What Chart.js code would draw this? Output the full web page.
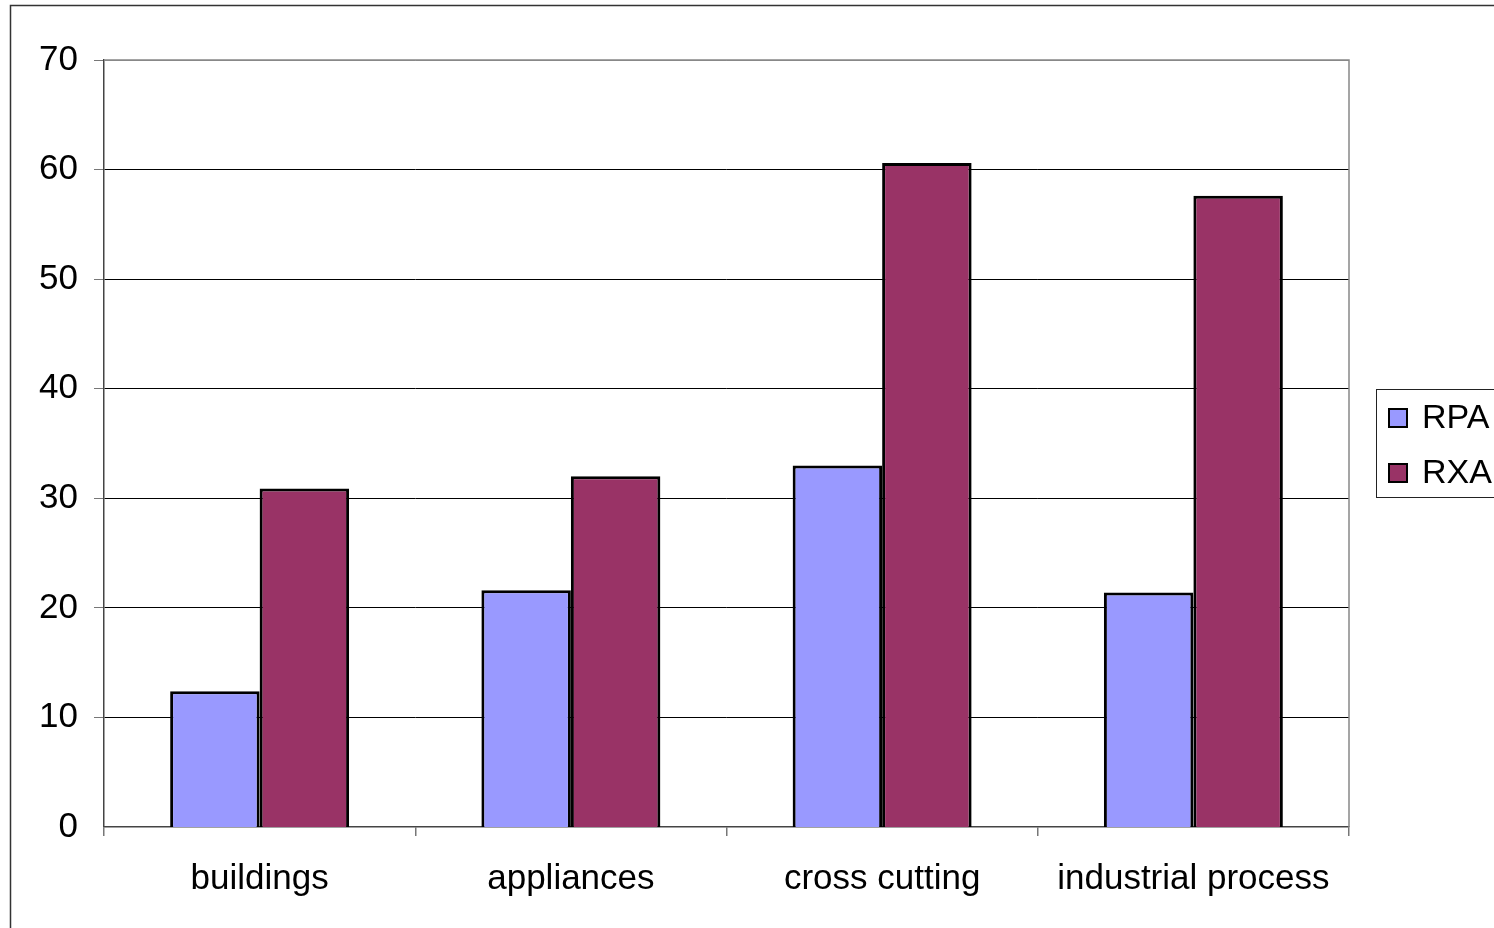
<!DOCTYPE html>
<html>
<head>
<meta charset="utf-8">
<script src="https://cdn.jsdelivr.net/npm/chart.js@4/dist/chart.umd.min.js"></script>
<style>
  html, body { margin: 0; padding: 0; background: #fff; }
  #wrap { width: 1494px; height: 928px; }
</style>
</head>
<body>
<div id="wrap"><canvas id="chart" width="1494" height="928"></canvas></div>
<script>
// categories and series
const categories = ['buildings', 'appliances', 'cross cutting', 'industrial process'];
const rpaValues = [12.4, 21.6, 33.0, 21.4];
const rxaValues = [30.9, 32.0, 60.6, 57.6];
const yTicks = [0, 10, 20, 30, 40, 50, 60, 70];

const FONT = '"Liberation Sans", Arial, sans-serif';

// outer frame, plot frame and a boxed legend on the right
const framePlugin = {
    id: 'frame',
    beforeDraw(chart) {
        const c = chart.ctx;
        c.save();
        c.fillStyle = '#fff';
        c.fillRect(0, 0, chart.width, chart.height);
        c.strokeStyle = '#333';
        c.lineWidth = 1.5;
        c.strokeRect(10.5, 5.5, chart.width + 20, chart.height + 20);
        c.restore();
    },
    afterDraw(chart) {
        const c = chart.ctx;
        const a = chart.chartArea;
        c.save();
        c.strokeStyle = '#888';
        c.lineWidth = 1.5;
        c.beginPath();
        c.moveTo(a.left, a.top);
        c.lineTo(a.right, a.top);
        c.lineTo(a.right, a.bottom);
        c.stroke();

        // legend
        const lx = 1376.5, ly = 389.5;
        c.strokeStyle = '#222';
        c.lineWidth = 1;
        c.strokeRect(lx, ly, 140, 108);
        c.font = '34px ' + FONT;
        c.textBaseline = 'middle';
        chart.data.datasets.forEach((ds, i) => {
            const cy = 418 + i * 55;
            c.fillStyle = ds.backgroundColor;
            c.fillRect(1388, cy - 10, 20, 20);
            c.strokeStyle = '#000';
            c.lineWidth = 2;
            c.strokeRect(1389, cy - 9, 18, 18);
            c.fillStyle = '#000';
            c.fillText(ds.label, 1422, cy + 1);
        });
        c.restore();
    }
};

new Chart(document.getElementById('chart'), {
    type: 'bar',
    data: {
        labels: categories,
        datasets: [
            {
                label: 'RPA',
                data: rpaValues,
                backgroundColor: '#9999FF',
                borderColor: '#000',
                borderWidth: 3
            },
            {
                label: 'RXA',
                data: rxaValues,
                backgroundColor: '#993366',
                borderColor: '#000',
                borderWidth: 3
            }
        ]
    },
    options: {
        responsive: false,
        animation: false,
        devicePixelRatio: 1,
        layout: { padding: { left: 0, top: 60, right: 145, bottom: 0 } },
        datasets: {
            bar: { categoryPercentage: 0.575, barPercentage: 1.0 }
        },
        plugins: {
            legend: { display: false },
            tooltip: { enabled: false }
        },
        scales: {
            x: {
                grid: {
                    offset: true,
                    drawOnChartArea: false,
                    drawTicks: true,
                    tickLength: 9,
                    tickColor: '#777',
                    lineWidth: 1.5
                },
                border: { color: '#444', width: 1.5 },
                ticks: {
                    color: '#000',
                    font: { family: FONT, size: 35 },
                    padding: 22,
                    maxRotation: 0,
                    autoSkip: false
                },
                afterFit(scale) { scale.height = 101; }
            },
            y: {
                min: 0,
                max: 70,
                afterBuildTicks(scale) {
                    scale.ticks = yTicks.map(v => ({ value: v }));
                },
                grid: {
                    color: ctx => (ctx.tick && ctx.tick.value === 70 ? '#888' : '#000'),
                    lineWidth: ctx => (ctx.tick && ctx.tick.value === 0 ? 0 : 1),
                    drawTicks: true,
                    tickLength: 10,
                    tickColor: '#777'
                },
                border: { color: '#444', width: 1.5 },
                ticks: {
                    color: '#000',
                    font: { family: FONT, size: 35 },
                    padding: 16
                },
                afterFit(scale) { scale.width = 104; }
            }
        }
    },
    plugins: [framePlugin]
});
</script>
</body>
</html>
